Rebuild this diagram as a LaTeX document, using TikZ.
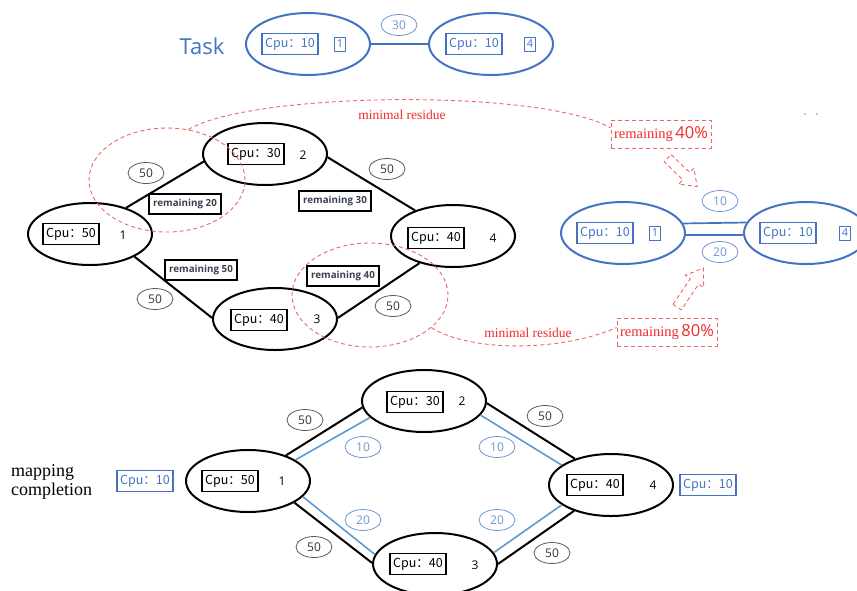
\documentclass[tikz,border=0pt]{standalone}
\usepackage{fontspec}
\setmainfont{Liberation Serif}
\setsansfont{Open Sans}
\newfontfamily\cjkfont{Noto Sans CJK SC}
\usetikzlibrary{shapes.geometric}

\definecolor{taskblue}{RGB}{68,114,196}
\definecolor{wblue}{RGB}{110,150,215}
\definecolor{edgeblue}{RGB}{91,155,213}
\definecolor{resred}{RGB}{240,40,40}
\definecolor{dashred}{RGB}{240,100,100}
\definecolor{tagtext}{RGB}{55,65,80}

\begin{document}
\begin{tikzpicture}[x=1pt,y=-1pt,
  hostell/.style={ellipse, draw=black, line width=2pt, minimum width=124pt, minimum height=62pt, inner sep=0pt},
  taskell/.style={hostell, draw=taskblue},
  cpubox/.style={draw=black, line width=1.5pt, minimum width=56pt, minimum height=21pt, inner sep=0pt, font=\cjkfont\fontsize{12.5}{14}\selectfont},
  taskbox/.style={cpubox, draw=taskblue, text=taskblue, line width=1.3pt},
  idlabel/.style={font=\sffamily\fontsize{12}{14}\selectfont, inner sep=0pt},
  taskid/.style={draw=taskblue, text=taskblue, line width=0.7pt, minimum width=11pt, minimum height=14pt, inner sep=0pt, font=\sffamily\fontsize{11}{12}\selectfont},
  wgt/.style={ellipse, draw=black!65, line width=0.8pt, minimum width=36pt, minimum height=21pt, inner sep=0pt, text=black!80, font=\sffamily\fontsize{12}{14}\selectfont},
  bwgt/.style={wgt, draw=wblue, text=wblue},
  tag/.style={draw=black, line width=1.4pt, minimum width=72pt, minimum height=20pt, inner sep=0pt, text=tagtext, font=\sffamily\bfseries\fontsize{9.8}{11}\selectfont},
  link/.style={line width=2pt},
  maplink/.style={draw=edgeblue, line width=1.6pt},
  tasklink/.style={draw=taskblue, line width=1.7pt},
  resdash/.style={draw=dashred, dash pattern=on 4pt off 3pt, line width=0.9pt},
  zone/.style={ellipse, resdash, minimum width=156pt, minimum height=104pt, inner sep=0pt},
  restag/.style={resdash, minimum width=100pt, minimum height=28pt, inner sep=0pt, text=resred},
  reslabel/.style={text=resred, font=\fontsize{13.5}{15}\selectfont},
]
\useasboundingbox (0,0) rectangle (857,590);

% ---------------- task graph ----------------
\node[text=taskblue, font=\sffamily\fontsize{22}{26}\selectfont] (tasktitle) at (202,46) {Task};
\node[taskell] (t1) at (308,44) {};
\node[taskbox] (t1c) at (290,44) {Cpu：10};
\node[taskid] (t1n) at (340,44) {1};
\node[taskell] (t4) at (491,44) {};
\node[taskbox] (t4c) at (474,44) {Cpu：10};
\node[taskid] (t4n) at (530,44) {4};
\draw[tasklink] (t1) -- (t4);
\node[bwgt] (tw) at (399,25) {30};

% ---------------- substrate network ----------------
\node[hostell] (m1) at (90,234) {};
\node[cpubox] (m1c) at (71,234) {Cpu：50};
\node[idlabel] (m1n) at (123,235) {1};
\node[hostell] (m2) at (265,154) {};
\node[cpubox] (m2c) at (256,154) {Cpu：30};
\node[idlabel] (m2n) at (303,155) {2};
\node[hostell] (m3) at (275,319) {};
\node[cpubox] (m3c) at (259,320) {Cpu：40};
\node[idlabel] (m3n) at (317,319) {3};
\node[hostell] (m4) at (453,236) {};
\node[cpubox] (m4c) at (436,238) {Cpu：40};
\node[idlabel] (m4n) at (493,238) {4};

\draw[link] (m1.36.6) -- (m2.187.5);
\draw[link] (m1.-27) -- (m3.179);
\draw[link] (m2.-3.7) -- (m4.146.3);
\draw[link] (m3.1) -- (m4.219.6);

\node[wgt] (mw12) at (146,173) {50};
\node[wgt] (mw24) at (387,169) {50};
\node[wgt] (mw13) at (155,299) {50};
\node[wgt] (mw34) at (393,306) {50};

\node[tag] (tagA) at (185,204) {remaining 20};
\node[tag] (tagB) at (335,201) {remaining 30};
\node[tag] (tagC) at (201,270) {remaining 50};
\node[tag] (tagD) at (343,276) {remaining 40};

% residue zones and their callouts
\node[zone] (zoneA) at (167,180) {};
\node[zone] (zoneB) at (370,295) {};
\node[restag] (res40) at (661,134) {{\fontsize{14.5}{17}\selectfont remaining}\hspace{2.5pt}{\sffamily\fontsize{16.5}{18}\selectfont 40\%}};
\node[restag] (res80) at (667,332) {{\fontsize{14.5}{17}\selectfont remaining}\hspace{2.5pt}{\sffamily\fontsize{16.5}{18}\selectfont 80\%}};
\draw[resdash] (zoneA.67) .. controls (250,92) and (540,88) .. (res40.173);
\draw[resdash] (zoneB.-28) .. controls (470,352) and (560,352) .. (res80.175);
\node[reslabel] (resA) at (402,115) {minimal residue};
\node[reslabel] (resB) at (528,333) {minimal residue};
\fill[dashred] (805,114) circle (0.8pt) (817,114) circle (0.8pt);

% hollow pointer arrows
\begin{scope}[shift={(682,172)}, rotate=-44]
  \draw[resdash] (-20,-5) -- (6,-5) -- (6,-11) -- (21,0) -- (6,11) -- (6,5) -- (-20,5) -- cycle;
\end{scope}
\begin{scope}[shift={(690,288)}, rotate=56]
  \draw[resdash] (-23,-5) -- (8,-5) -- (8,-11) -- (24,0) -- (8,11) -- (8,5) -- (-23,5) -- cycle;
\end{scope}

% ---------------- residual task mapping ----------------
\node[taskell] (r1) at (623,233) {};
\node[taskbox] (r1c) at (605,233) {Cpu：10};
\node[taskid] (r1n) at (655,233) {1};
\node[taskell] (r4) at (806,233) {};
\node[taskbox] (r4c) at (788,233) {Cpu：10};
\node[taskid] (r4n) at (845,233) {4};
\draw[tasklink] (r1.9.6) -- (r4.170.4);
\draw[tasklink] (r1.-2.8) -- (r4.182.8);
\node[bwgt] (rw10) at (720,201) {10};
\node[bwgt] (rw20) at (720,252) {20};

% ---------------- mapping completion ----------------
\node[align=left, anchor=west, inner sep=0pt, font=\fontsize{18}{19}\selectfont] (maptitle) at (11,482) {mapping\\completion};
\node[hostell] (b1) at (248,481) {};
\node[cpubox] (b1c) at (230,481) {Cpu：50};
\node[idlabel] (b1n) at (282,481) {1};
\node[hostell] (b2) at (424,401) {};
\node[cpubox] (b2c) at (415,402) {Cpu：30};
\node[idlabel] (b2n) at (462,401) {2};
\node[hostell] (b3) at (435,564) {};
\node[cpubox] (b3c) at (418,564) {Cpu：40};
\node[idlabel] (b3n) at (475,565) {3};
\node[hostell] (b4) at (611,485) {};
\node[cpubox] (b4c) at (595,485) {Cpu：40};
\node[idlabel] (b4n) at (653,485) {4};
\node[taskbox] (bt1) at (145,481) {Cpu：10};
\node[taskbox] (bt4) at (708,485) {Cpu：10};

\draw[link] (b1.34) -- (b2.186);
\draw[link] (b1.-25) -- (b3.179);
\draw[link] (b2.-2) -- (b4.144);
\draw[link] (b3.0) -- (b4.215);
\draw[maplink] (b1.24) -- (b2.197);
\draw[maplink] (b1.-16) -- (b3.171);
\draw[maplink] (b2.-14) -- (b4.158);
\draw[maplink] (b3.11) -- (b4.202);

\node[wgt] (bw12) at (305,420) {50};
\node[wgt] (bw13) at (314,547) {50};
\node[wgt] (bw24) at (545,416) {50};
\node[wgt] (bw34) at (552,553) {50};
\node[bwgt] (bm12) at (363,447) {10};
\node[bwgt] (bm13) at (363,520) {20};
\node[bwgt] (bm24) at (497,447) {10};
\node[bwgt] (bm34) at (497,520) {20};
\end{tikzpicture}
\end{document}
